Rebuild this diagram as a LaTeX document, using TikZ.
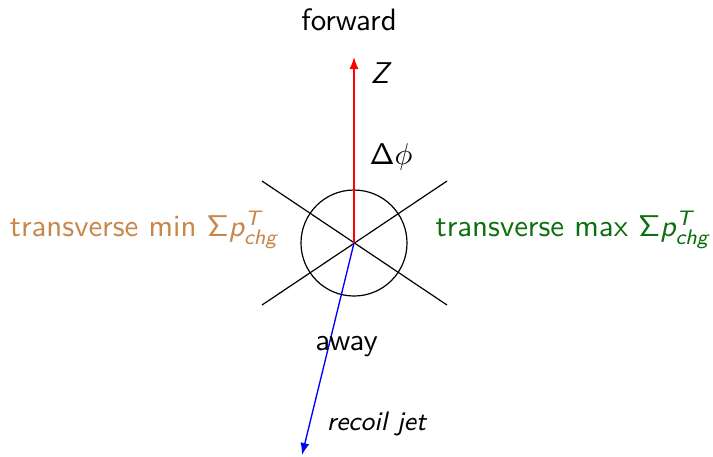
\documentclass[tikz,border=0pt]{standalone}
\usetikzlibrary{arrows.meta}
\DeclareMathAlphabet{\mathsfsl}{OT1}{cmss}{m}{sl}
\definecolor{tanlabel}{RGB}{200,134,74}
\definecolor{greenlabel}{RGB}{12,110,12}
\newcommand{\sumpt}{$\mathsf{\Sigma}\mathsfsl{p}^{\mathsfsl{T}}_{\mathsfsl{chg}}$}
\begin{document}
\begin{tikzpicture}[x=0.3333pt,y=-0.3333pt,
  lbl/.style={font=\fontsize{10.3}{12}\selectfont\sffamily, inner sep=0pt},
  thinline/.style={line width=0.4pt, black},
  axisarrow/.style={line width=0.45pt, -{Latex[length=4pt,width=3pt]}}]
\useasboundingbox (0,0) rectangle (713,456);
\coordinate (c) at (354,243);
\coordinate (tl) at (262,181);
\coordinate (br) at (447,305);
\coordinate (bl) at (262,305);
\coordinate (tr) at (447,181);
\coordinate (ztip) at (354,57);
\coordinate (jtip) at (302,455);
\draw[thinline] (c) circle[radius=53];
\draw[thinline] (tl) -- (br);
\draw[thinline] (bl) -- (tr);
\draw[axisarrow, red] (c) -- (ztip);
\draw[axisarrow, blue] (c) -- (jtip);
\node[lbl, anchor=base] (fwd) at (349,30) {forward};
\node[lbl, anchor=base west] (z) at (370,83) {$\mathsfsl{Z}$};
\node[lbl, anchor=base west] (dphi) at (369,164) {$\mathsf{\Delta}\phi$};
\node[lbl, anchor=base east, text=tanlabel] (tmin) at (281,236) {transverse min \sumpt};
\node[lbl, anchor=base west, text=greenlabel] (tmax) at (435,236) {transverse max \sumpt};
\node[lbl, anchor=base] (away) at (346.5,350) {away};
\node[lbl, anchor=base, font=\fontsize{8.9}{11}\selectfont\sffamily\slshape] (recoil) at (376.5,430) {recoil jet};
\end{tikzpicture}
\end{document}
